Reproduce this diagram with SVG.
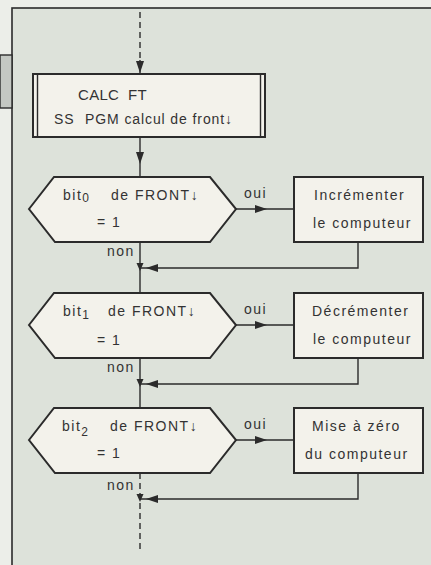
<svg xmlns="http://www.w3.org/2000/svg" width="431" height="565" viewBox="0 0 431 565">
<style>
.ln{fill:none;stroke:#2b2b2b;stroke-width:1.4}
.bx{fill:#f3f2eb;stroke:#2b2b2b;stroke-width:2}
.ds{fill:none;stroke:#2b2b2b;stroke-width:1.4;stroke-dasharray:6 4}
.t{font-family:"Liberation Sans",Arial,sans-serif;font-size:14px;fill:#333;letter-spacing:1.5px}
.s{font-size:12px}
.ah{fill:#2b2b2b}
</style>
<defs>
<path id="ah" d="M0,0 L-12,-4 L-12,4 Z"/>
<path id="ahs" d="M0,0 L-8,-3.5 L-8,3.5 Z"/>
</defs>
<rect x="0" y="0" width="431" height="565" fill="#eceee9"/>
<rect x="12" y="8" width="430" height="570" fill="#dde2da" stroke="#2b2b2b" stroke-width="1.6"/>
<rect x="0" y="55" width="12" height="53" fill="#c4c8c3" stroke="#2b2b2b" stroke-width="1.4"/>

<g id="connectors">
<path class="ds" d="M140,12 V62"/>
<path class="ln" d="M140,60 V74"/>
<path class="ln" d="M140,137 V177"/>
<path class="ln" d="M140,242 V293 M140,358 V408"/>
<path class="ds" d="M140,473 V550"/>
<path class="ln" d="M236,209 H294 M236,325 H294 M236,440 H294"/>
<path class="ln" d="M358,242 V268 H140 M358,358 V384 H140 M358,473 V499 H140"/>
<use href="#ah" class="ah" transform="translate(140,73) rotate(90)"/>
<use href="#ah" class="ah" transform="translate(140,164) rotate(90)"/>
<use href="#ah" class="ah" transform="translate(267,209)"/>
<use href="#ah" class="ah" transform="translate(267,325)"/>
<use href="#ah" class="ah" transform="translate(267,440)"/>
<use href="#ahs" class="ah" transform="translate(140,271) rotate(90)"/>
<use href="#ahs" class="ah" transform="translate(140,387) rotate(90)"/>
<use href="#ahs" class="ah" transform="translate(140,502) rotate(90)"/>
<use href="#ah" class="ah" transform="translate(146,268) rotate(180)"/>
<use href="#ah" class="ah" transform="translate(146,384) rotate(180)"/>
<use href="#ah" class="ah" transform="translate(146,499) rotate(180)"/>
<text class="t" x="244" y="198">oui</text>
<text class="t" x="244" y="314">oui</text>
<text class="t" x="244" y="429">oui</text>
<text class="t" x="107" y="256">non</text>
<text class="t" x="107" y="372">non</text>
<text class="t" x="107" y="490">non</text>
</g>

<g id="calc">
<rect class="bx" x="33" y="74" width="232" height="63"/>
<path class="ln" d="M37.5,74 V137 M260.5,74 V137"/>
<text class="t" x="78" y="100" style="font-size:15px;letter-spacing:0.3px">CALC<tspan x="128">FT</tspan></text>
<text class="t" x="54" y="124" style="font-size:14px;letter-spacing:0.9px">SS<tspan x="85">PGM calcul de front↓</tspan></text>
</g>

<g id="test0">
<polygon class="bx" points="29,209 54,177 210,177 236,209 210,242 55,242"/>
<text class="t" x="63" y="200">bit<tspan class="s" dy="2">0</tspan><tspan dy="-2" x="111">de FRONT↓</tspan></text>
<text class="t" x="97" y="227">= 1</text>
</g>
<g id="incr">
<rect class="bx" x="294" y="177" width="129" height="65"/>
<text class="t" x="314" y="200">Incrémenter</text>
<text class="t" x="313" y="228">le computeur</text>
</g>

<g id="test1">
<polygon class="bx" points="29,325 54,293 210,293 236,325 210,358 55,358"/>
<text class="t" x="63" y="316">bit<tspan class="s" dy="3">1</tspan><tspan dy="-3" x="108">de FRONT↓</tspan></text>
<text class="t" x="97" y="345">= 1</text>
</g>
<g id="decr">
<rect class="bx" x="294" y="293" width="129" height="65"/>
<text class="t" x="312" y="316">Décrémenter</text>
<text class="t" x="313" y="344">le computeur</text>
</g>

<g id="test2">
<polygon class="bx" points="29,440 54,408 210,408 236,440 210,473 55,473"/>
<text class="t" x="62" y="431">bit<tspan class="s" dy="5">2</tspan><tspan dy="-5" x="110">de FRONT↓</tspan></text>
<text class="t" x="97" y="458">= 1</text>
</g>
<g id="raz">
<rect class="bx" x="294" y="408" width="129" height="65"/>
<text class="t" x="312" y="431">Mise à zéro</text>
<text class="t" x="305" y="459">du computeur</text>
</g>
</svg>
